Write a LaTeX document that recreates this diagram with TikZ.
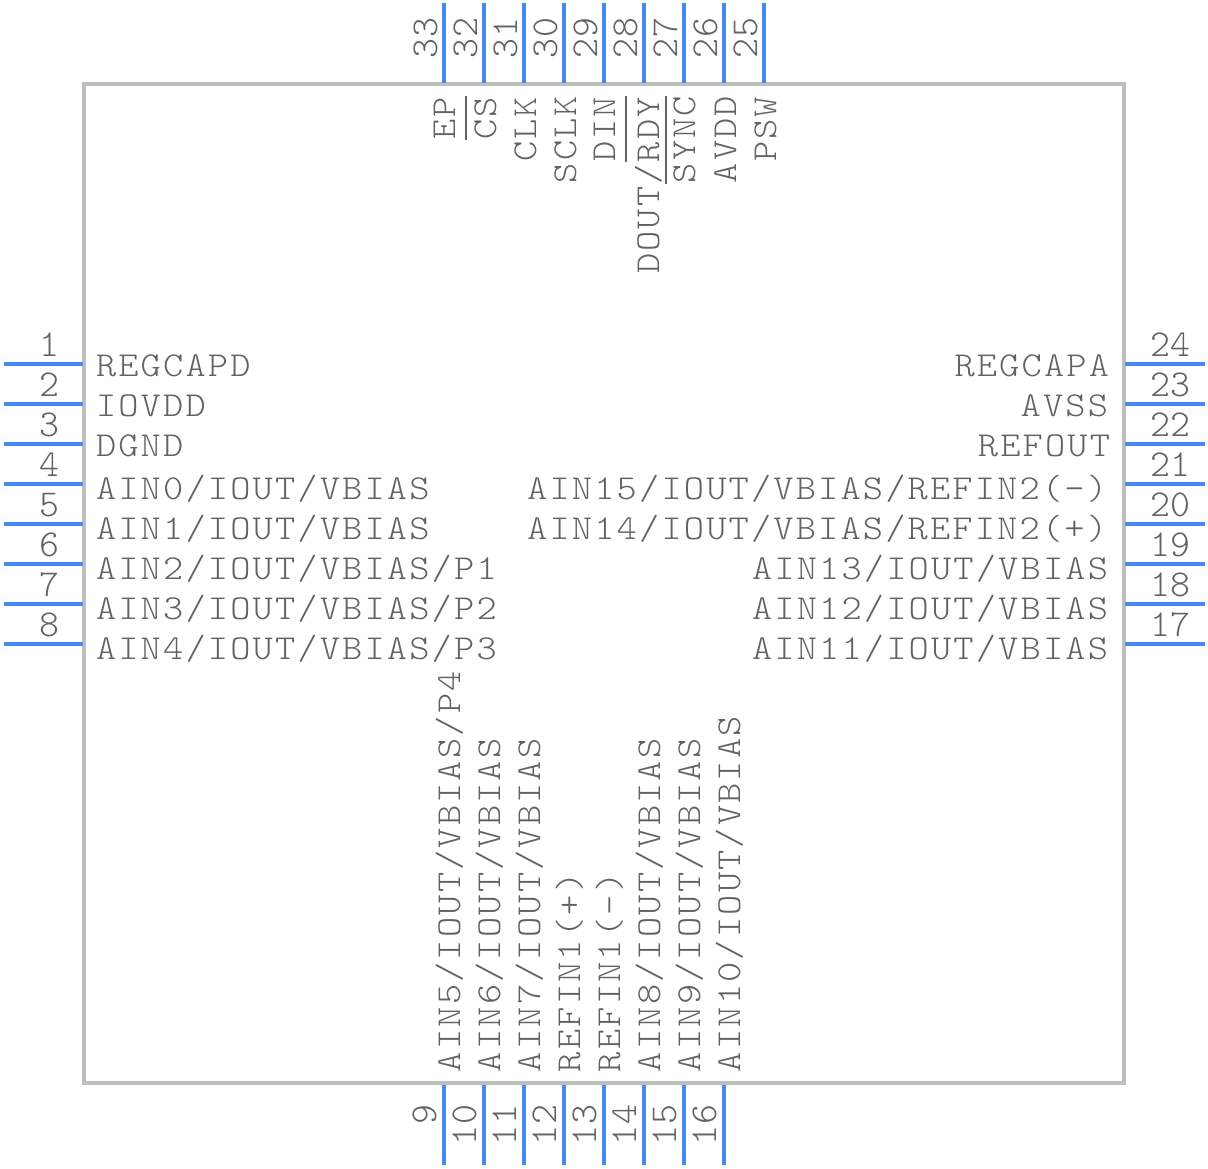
\documentclass[tikz,border=0pt]{standalone}
\usepackage{fontspec}
\newfontfamily\labfont[FakeStretch=1.1,LetterSpace=6.2]{Latin Modern Mono Light}
\newfontfamily\numfont[FakeStretch=1.0,LetterSpace=0.4]{Latin Modern Mono Light}
\definecolor{pinblue}{HTML}{4689F5}
\definecolor{boxgray}{HTML}{BEBEBE}
\definecolor{txtgray}{HTML}{626262}
\tikzset{
	pin/.style={line width=2pt,color=pinblue,line cap=butt},
	num/.style={color=txtgray,inner sep=0pt,outer sep=0pt,font=\numfont\fontsize{19}{19}\selectfont},
	lab/.style={color=txtgray,inner sep=0pt,outer sep=0pt,font=\labfont\fontsize{17.5}{17.5}\selectfont},
	bar/.style={line width=1pt,color=txtgray,line cap=butt}
}
\begin{document}
\begin{tikzpicture}[line cap=round,line join=round,x=0.5pt,y=-0.5pt]
	\useasboundingbox (0,0) rectangle (1208,1168);
	\draw [line width=2pt,color=boxgray,line join=miter] (84,84) rectangle (1124,1083);
	% left pins
	\draw [pin] (4,364)-- (83,364);
	\draw [pin] (4,404)-- (83,404);
	\draw [pin] (4,444)-- (83,444);
	\draw [pin] (4,484)-- (83,484);
	\draw [pin] (4,524)-- (83,524);
	\draw [pin] (4,564)-- (83,564);
	\draw [pin] (4,604)-- (83,604);
	\draw [pin] (4,644)-- (83,644);
	\node (n1) [num,anchor=base east] at (59,356) {1};
	\node (n2) [num,anchor=base east] at (59,396) {2};
	\node (n3) [num,anchor=base east] at (59,436) {3};
	\node (n4) [num,anchor=base east] at (59,476) {4};
	\node (n5) [num,anchor=base east] at (59,516) {5};
	\node (n6) [num,anchor=base east] at (59,556) {6};
	\node (n7) [num,anchor=base east] at (59,596) {7};
	\node (n8) [num,anchor=base east] at (59,636) {8};
	\node (regcapd) [lab,anchor=base west] at (96,376) {REGCAPD};
	\node (iovdd) [lab,anchor=base west] at (96,416) {IOVDD};
	\node (dgnd) [lab,anchor=base west] at (96,456) {DGND};
	\node (ain0) [lab,anchor=base west] at (96,499) {AIN0/IOUT/VBIAS};
	\node (ain1) [lab,anchor=base west] at (96,539) {AIN1/IOUT/VBIAS};
	\node (ain2) [lab,anchor=base west] at (96,579) {AIN2/IOUT/VBIAS/P1};
	\node (ain3) [lab,anchor=base west] at (96,619) {AIN3/IOUT/VBIAS/P2};
	\node (ain4) [lab,anchor=base west] at (96,659) {AIN4/IOUT/VBIAS/P3};
	% bottom pins
	\draw [pin] (444,1085)-- (444,1165);
	\draw [pin] (484,1085)-- (484,1165);
	\draw [pin] (524,1085)-- (524,1165);
	\draw [pin] (564,1085)-- (564,1165);
	\draw [pin] (604,1085)-- (604,1165);
	\draw [pin] (644,1085)-- (644,1165);
	\draw [pin] (684,1085)-- (684,1165);
	\draw [pin] (724,1085)-- (724,1165);
	\node (n9) [num,rotate=90,anchor=base east] at (436,1105) {9};
	\node (n10) [num,rotate=90,anchor=base east] at (476,1105) {10};
	\node (n11) [num,rotate=90,anchor=base east] at (516,1105) {11};
	\node (n12) [num,rotate=90,anchor=base east] at (556,1105) {12};
	\node (n13) [num,rotate=90,anchor=base east] at (596,1105) {13};
	\node (n14) [num,rotate=90,anchor=base east] at (636,1105) {14};
	\node (n15) [num,rotate=90,anchor=base east] at (676,1105) {15};
	\node (n16) [num,rotate=90,anchor=base east] at (716,1105) {16};
	\node (ain5) [lab,rotate=90,anchor=base west] at (460,1072) {AIN5/IOUT/VBIAS/P4};
	\node (ain6) [lab,rotate=90,anchor=base west] at (500,1072) {AIN6/IOUT/VBIAS};
	\node (ain7) [lab,rotate=90,anchor=base west] at (540,1072) {AIN7/IOUT/VBIAS};
	\node (refin1p) [lab,rotate=90,anchor=base west] at (580,1072) {REFIN1(+)};
	\node (refin1m) [lab,rotate=90,anchor=base west] at (620,1072) {REFIN1(-)};
	\node (ain8) [lab,rotate=90,anchor=base west] at (660,1072) {AIN8/IOUT/VBIAS};
	\node (ain9) [lab,rotate=90,anchor=base west] at (700,1072) {AIN9/IOUT/VBIAS};
	\node (ain10) [lab,rotate=90,anchor=base west] at (740,1072) {AIN10/IOUT/VBIAS};
	% right pins
	\draw [pin] (1125,644)-- (1205,644);
	\draw [pin] (1125,604)-- (1205,604);
	\draw [pin] (1125,564)-- (1205,564);
	\draw [pin] (1125,524)-- (1205,524);
	\draw [pin] (1125,484)-- (1205,484);
	\draw [pin] (1125,444)-- (1205,444);
	\draw [pin] (1125,404)-- (1205,404);
	\draw [pin] (1125,364)-- (1205,364);
	\node (n17) [num,anchor=base west] at (1150,636) {17};
	\node (n18) [num,anchor=base west] at (1150,596) {18};
	\node (n19) [num,anchor=base west] at (1150,556) {19};
	\node (n20) [num,anchor=base west] at (1150,516) {20};
	\node (n21) [num,anchor=base west] at (1150,476) {21};
	\node (n22) [num,anchor=base west] at (1150,436) {22};
	\node (n23) [num,anchor=base west] at (1150,396) {23};
	\node (n24) [num,anchor=base west] at (1150,356) {24};
	\node (ain11) [lab,anchor=base east] at (1108,659) {AIN11/IOUT/VBIAS};
	\node (ain12) [lab,anchor=base east] at (1108,619) {AIN12/IOUT/VBIAS};
	\node (ain13) [lab,anchor=base east] at (1108,579) {AIN13/IOUT/VBIAS};
	\node (ain14) [lab,anchor=base east] at (1107,539) {AIN14/IOUT/VBIAS/REFIN2(+)};
	\node (ain15) [lab,anchor=base east] at (1107,499) {AIN15/IOUT/VBIAS/REFIN2(-)};
	\node (refout) [lab,anchor=base east] at (1110,456) {REFOUT};
	\node (avss) [lab,anchor=base east] at (1108,416) {AVSS};
	\node (regcapa) [lab,anchor=base east] at (1109,376) {REGCAPA};
	% top pins
	\draw [pin] (764,3)-- (764,83);
	\draw [pin] (724,3)-- (724,83);
	\draw [pin] (684,3)-- (684,83);
	\draw [pin] (644,3)-- (644,83);
	\draw [pin] (604,3)-- (604,83);
	\draw [pin] (564,3)-- (564,83);
	\draw [pin] (524,3)-- (524,83);
	\draw [pin] (484,3)-- (484,83);
	\draw [pin] (444,3)-- (444,83);
	\node (n25) [num,rotate=90,anchor=base west] at (757,58) {25};
	\node (n26) [num,rotate=90,anchor=base west] at (717,58) {26};
	\node (n27) [num,rotate=90,anchor=base west] at (677,58) {27};
	\node (n28) [num,rotate=90,anchor=base west] at (637,58) {28};
	\node (n29) [num,rotate=90,anchor=base west] at (597,58) {29};
	\node (n30) [num,rotate=90,anchor=base west] at (557,58) {30};
	\node (n31) [num,rotate=90,anchor=base west] at (517,58) {31};
	\node (n32) [num,rotate=90,anchor=base west] at (477,58) {32};
	\node (n33) [num,rotate=90,anchor=base west] at (437,58) {33};
	\node (psw) [lab,rotate=90,anchor=base east] at (776,97) {PSW};
	\node (avdd) [lab,rotate=90,anchor=base east] at (736,96) {AVDD};
	\node (sync) [lab,rotate=90,anchor=base east] at (695,96) {SYNC};
	\node (dout) [lab,rotate=90,anchor=base east] at (659,97) {DOUT/RDY};
	\node (din) [lab,rotate=90,anchor=base east] at (615,97) {DIN};
	\node (sclk) [lab,rotate=90,anchor=base east] at (576,96) {SCLK};
	\node (clk) [lab,rotate=90,anchor=base east] at (536,97) {CLK};
	\node (cs) [lab,rotate=90,anchor=base east] at (496,97) {CS};
	\node (ep) [lab,rotate=90,anchor=base east] at (455,97) {EP};
	\draw [bar] (666,96)-- (666,184);
	\draw [bar] (626,96)-- (626,162);
	\draw [bar] (466,96)-- (466,140);
\end{tikzpicture}
\end{document}
